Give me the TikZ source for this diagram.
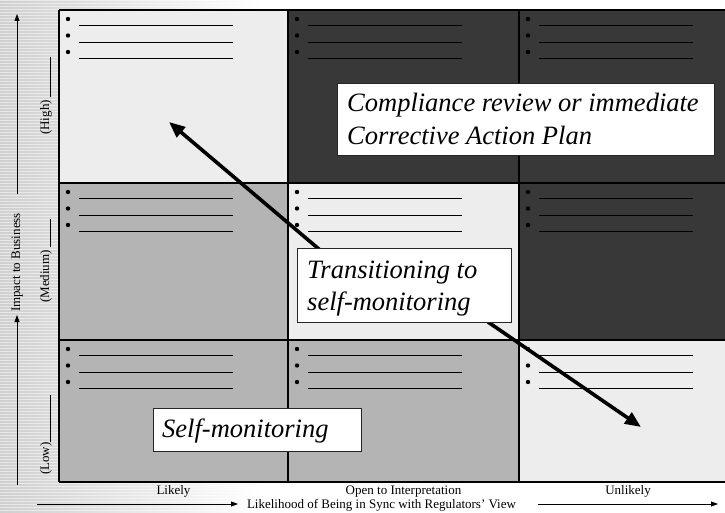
\documentclass[tikz,border=0pt]{standalone}
\usepackage{fontspec}
\setmainfont{Liberation Serif}
\usetikzlibrary{arrows.meta}
\definecolor{celllight}{HTML}{EDEDED}
\definecolor{cellmid}{HTML}{B4B4B4}
\definecolor{celldark}{HTML}{383838}
\definecolor{bgg}{HTML}{CFCFCF}
\newcommand\cellbul[2]{% x, y
  \foreach \k in {0,16.5,33}{
    \fill[black] (#1+9,#2+9+\k) circle (2.2);
    \draw[black,line width=0.8pt] (#1+20,#2+15.5+\k) -- (#1+174,#2+15.5+\k);
  }}
\begin{document}
\begin{tikzpicture}[x=1pt,y=-1pt,
  gridline/.style={black,line width=1.1pt},
  bigbox/.style={draw=black!85,fill=white,line width=0.8pt,inner sep=0pt,anchor=north west},
  bigtext/.style={font=\fontsize{26.5}{33}\selectfont\itshape,inner sep=0pt,anchor=base west},
  lab/.style={font=\fontsize{13}{15}\selectfont,inner sep=0pt},
  bigarrow/.style={black,line width=3.6pt,-{Triangle[length=16pt,width=13pt]}},
  axisarrow/.style={black,line width=0.8pt,-{Triangle[length=7pt,width=5pt]}}]
\useasboundingbox (0,0) rectangle (725,513);
% background
\fill[white] (0,0) rectangle (725,513);
\shade[left color=bgg,right color=white] (0,0) rectangle (260,513);
\foreach \y in {0,3,...,513} \fill[white,opacity=0.5] (0,\y) rectangle (260,\y+1.4);
% cells
\fill[celllight] (59,10) rectangle (288,183);
\fill[celldark] (288,10) rectangle (725,183);
\fill[cellmid] (59,183) rectangle (288,340);
\fill[celllight] (288,183) rectangle (519,340);
\fill[celldark] (519,183) rectangle (725,340);
\fill[cellmid] (59,340) rectangle (519,482);
\fill[celllight] (519,340) rectangle (725,482);
% grid lines
\foreach \y in {10,183,340,482} \draw[gridline] (59,\y) -- (725,\y);
\foreach \x in {59,288,519} \draw[gridline] (\x,10) -- (\x,482);
% bullets
\foreach \cx in {59,288,519}{
  \foreach \cy in {10,183,340}{
    \cellbul{\cx}{\cy}
  }}
% big arrows
\coordinate (a1s) at (320,250);
\coordinate (a1e) at (169,122);
\coordinate (a2s) at (488,322);
\coordinate (a2e) at (641,427);
\draw[bigarrow] (a1s) -- (a1e);
\draw[bigarrow] (a2s) -- (a2e);
% boxes
\node[bigbox,minimum width=377,minimum height=72] (comp) at (337,83) {};
\node[bigtext] (comp1) at (347,112) {Compliance review or immediate};
\node[bigtext] (comp2) at (347,145) {Corrective Action Plan};
\node[bigbox,minimum width=214,minimum height=74] (trans) at (297,248) {};
\node[bigtext] (trans1) at (307,278) {Transitioning to};
\node[bigtext] (trans2) at (307,310) {self-monitoring};
\node[bigbox,minimum width=208,minimum height=43] (self) at (153,408) {};
\node[bigtext] (self1) at (162,437) {Self-monitoring};
% row labels
\node[lab,rotate=90,anchor=base west] (high) at (49,135) {(High) \rule[-1.5pt]{40pt}{0.6pt}};
\node[lab,rotate=90,anchor=base west] (med) at (49,303) {(Medium) \rule[-1.5pt]{28pt}{0.6pt}};
\node[lab,rotate=90,anchor=base west] (low) at (49,475) {(Low)\rule[-1.5pt]{47pt}{0.6pt}};
% column labels
\node[lab,anchor=base] (likely) at (173.5,494) {Likely};
\node[lab,anchor=base] (open) at (403.5,494) {Open to Interpretation};
\node[lab,anchor=base] (unlikely) at (628,494) {Unlikely};
% axes
\node[lab,anchor=base] (xlab) at (381.5,508) {Likelihood of Being in Sync with Regulators' View};
\node[lab,rotate=90,anchor=base] (ylab) at (20,262.5) {Impact to Business};
\coordinate (hl) at (37,504);
\coordinate (hltip) at (238,504);
\coordinate (hr) at (538,504);
\coordinate (hrtip) at (718,504);
\draw[axisarrow] (hl) -- (hltip);
\draw[axisarrow] (hr) -- (hrtip);
\coordinate (vt) at (17,194);
\coordinate (vttip) at (17,14);
\coordinate (vb) at (17,485);
\coordinate (vbtip) at (17,315);
\draw[axisarrow] (vt) -- (vttip);
\draw[axisarrow] (vb) -- (vbtip);
\end{tikzpicture}
\end{document}
